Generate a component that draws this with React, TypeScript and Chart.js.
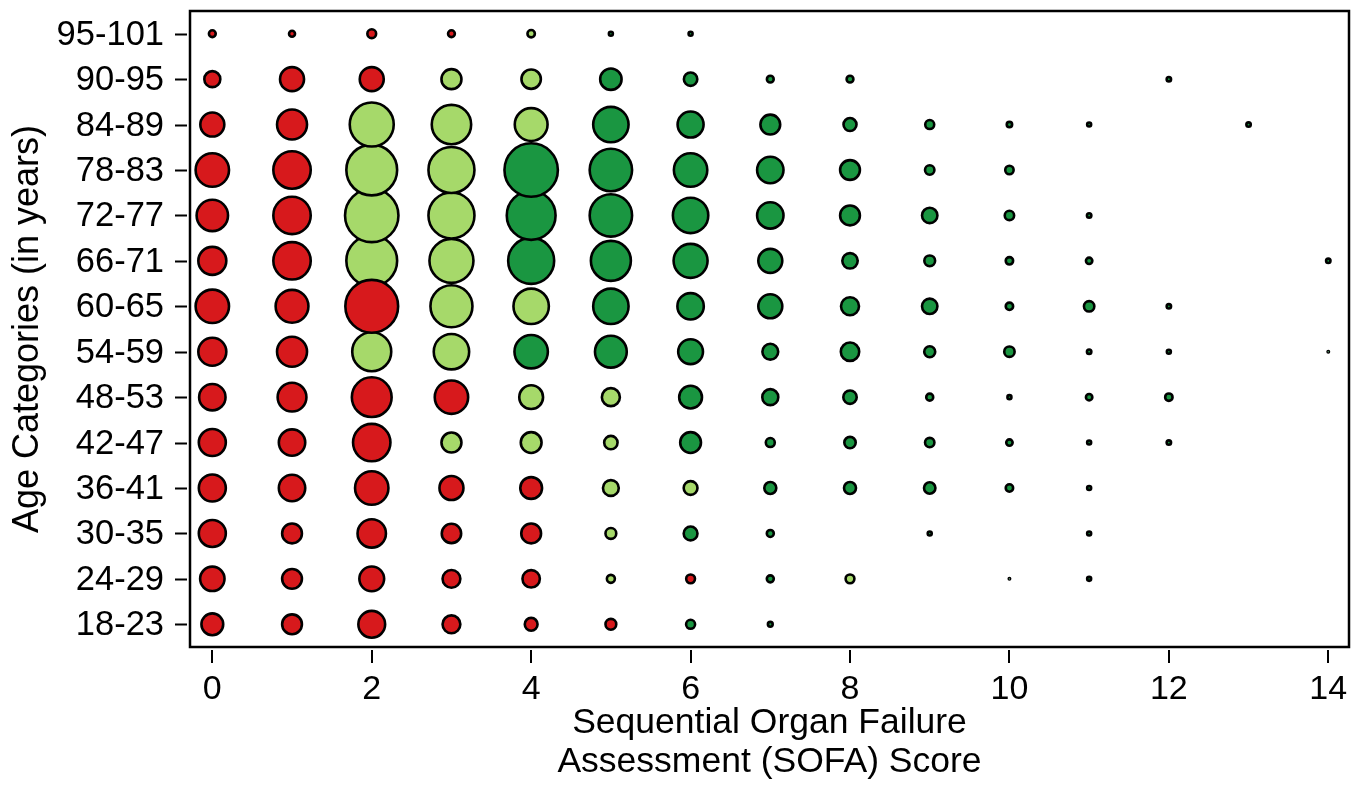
import React, { useEffect, useRef } from 'react';
import { Chart, registerables, BubbleController } from 'chart.js';

Chart.register(...registerables);

// Bubble controller that does not reserve extra padding around the plot area
class TightBubbleController extends BubbleController {
  static id = 'tightBubble';
  static defaults = BubbleController.defaults;
  static overrides = BubbleController.overrides;
  getMaxOverflow() {
    return false as any;
  }
}
Chart.register(TightBubbleController);

// Age categories, bottom (index 0) to top
const ageCategories = [
  '18-23', '24-29', '30-35', '36-41', '42-47', '48-53', '54-59',
  '60-65', '66-71', '72-77', '78-83', '84-89', '90-95', '95-101',
];
const sofaScores = [0, 1, 2, 3, 4, 5, 6, 7, 8, 9, 10, 11, 12, 13, 14];
const xTickValues = [0, 2, 4, 6, 8, 10, 12, 14];

// Bubble size (radius, px) per SOFA score 0..14 for each age category; null = empty
const size18to23 = [12.2, 11.2, 14.7, 10.2, 7.7, 6.7, 5.8, 3.7, null, null, null, null, null, null, null];
const size24to29 = [13.5, 11.2, 13.7, 10.2, 10, 5.3, 5.7, 4.8, 5.7, null, 2, 3.3, null, null, null];
const size30to35 = [14.8, 11.2, 15.5, 11, 11.2, 6.7, 8.2, 4.8, null, 3.3, null, 3.3, null, null, null];
const size36to41 = [14.8, 14.5, 18, 13.3, 12.2, 9.2, 8.2, 7.3, 7.3, 7, 5, 3.3, null, null, null];
const size42to47 = [14.8, 14.5, 20, 11.3, 11.7, 8, 11.7, 5.8, 7, 6, 4.5, 3.3, 3.5, null, null];
const size48to53 = [14.5, 15.7, 21.2, 18, 13.2, 10.3, 12.7, 9.3, 8, 4.8, 3.3, 4.5, 5, null, null];
const size54to59 = [15.3, 16.3, 20.8, 19, 18, 17.2, 13.7, 9.2, 10.5, 6.8, 6.5, 3.5, 3.3, null, 2];
const size60to65 = [18, 17.7, 27.7, 22.3, 19, 19, 14.5, 13.3, 10.3, 9, 5, 6.5, 3.5, null, null];
const size66to71 = [15.3, 20, 26.7, 23.3, 24.3, 21.3, 18.3, 13.3, 9, 6.7, 5, 4.5, null, null, 3.5];
const size72to77 = [17, 20, 28, 24.3, 25.7, 22.5, 19, 14.5, 11.2, 9, 6, 3.5, null, null, null];
const size78to83 = [18, 20, 26.7, 24.3, 28, 22.5, 18, 14.5, 11.2, 6, 5.5, null, null, null, null];
const size84to89 = [13.3, 16.3, 23.3, 21, 17.7, 19, 14.3, 11.2, 7.8, 5.8, 4, 3.3, null, 3.5, null];
const size90to95 = [9.3, 13.3, 13.3, 11.3, 11, 12, 8, 4.7, 4.7, null, null, null, 3.5, null, null];
const size95to101 = [4.7, 4.3, 5.7, 4.7, 5, 3.3, 3.3, null, null, null, null, null, null, null, null];

// Colour group per SOFA score 0..14: R = red, L = light green, D = dark green, - = none
const group18to23 = 'RRRRRRDD-------';
const group24to29 = 'RRRRRLRDL-DD---';
const group30to35 = 'RRRRRLDD-D-D---';
const group36to41 = 'RRRRRLLDDDDD---';
const group42to47 = 'RRRLLLDDDDDDD--';
const group48to53 = 'RRRRLLDDDDDDD--';
const group54to59 = 'RRLLDDDDDDDDD-D';
const group60to65 = 'RRRLLDDDDDDDD--';
const group66to71 = 'RRLLDDDDDDDD--D';
const group72to77 = 'RRLLDDDDDDDD---';
const group78to83 = 'RRLLDDDDDDD----';
const group84to89 = 'RRLLLDDDDDDD-D-';
const group90to95 = 'RRRLLDDDD---D--';
const group95to101 = 'RRRRLDD--------';

const rowSizes = [
  size18to23, size24to29, size30to35, size36to41, size42to47, size48to53, size54to59,
  size60to65, size66to71, size72to77, size78to83, size84to89, size90to95, size95to101,
];
const rowGroups = [
  group18to23, group24to29, group30to35, group36to41, group42to47, group48to53, group54to59,
  group60to65, group66to71, group72to77, group78to83, group84to89, group90to95, group95to101,
];

const groupCodes = ['R', 'L', 'D'];
const groupColors = ['#d7191c', '#a6d96a', '#1a9641'];

const BORDER = 2.6;
const FONT = '"Liberation Sans", Arial, Helvetica, sans-serif';

// Draws the frame, the tick marks (set off from the frame) and the tick labels
const frame = {
  id: 'frame',
  afterDraw(chart: any) {
    const { ctx, chartArea } = chart;
    const { left, right, top, bottom } = chartArea;
    const xs = chart.scales.x;
    const ys = chart.scales.y;
    ctx.save();
    ctx.strokeStyle = '#000';
    ctx.lineWidth = 2.5;
    ctx.strokeRect(left, top, right - left, bottom - top);
    ctx.lineWidth = 2;
    ctx.beginPath();
    ageCategories.forEach((_, i) => {
      const y = Math.round(ys.getPixelForValue(i)) + 0.5;
      ctx.moveTo(left - 15, y);
      ctx.lineTo(left - 3, y);
    });
    xTickValues.forEach((v) => {
      const x = Math.round(xs.getPixelForValue(v));
      ctx.moveTo(x, bottom + 3);
      ctx.lineTo(x, bottom + 16);
    });
    ctx.stroke();

    ctx.fillStyle = '#000';
    ctx.font = `34.5px ${FONT}`;
    ctx.textAlign = 'right';
    ctx.textBaseline = 'middle';
    ageCategories.forEach((label, i) => {
      ctx.fillText(label, left - 26, ys.getPixelForValue(i) + 1.5);
    });
    ctx.font = `34px ${FONT}`;
    ctx.textAlign = 'center';
    xTickValues.forEach((v) => {
      ctx.fillText(String(v), xs.getPixelForValue(v), bottom + 43);
    });
    ctx.restore();
  },
};

export default function App() {
  const ref = useRef<HTMLCanvasElement | null>(null);

  useEffect(() => {
    if (!ref.current) return;
    const datasets = groupCodes.map((code, gi) => {
      const data: { x: number; y: number; r: number }[] = [];
      rowSizes.forEach((sizes, yi) => {
        sofaScores.forEach((score, xi) => {
          const s = sizes[xi];
          if (s != null && rowGroups[yi][xi] === code) {
            data.push({ x: score, y: yi, r: Math.max(s - BORDER / 2, 0.6) });
          }
        });
      });
      return {
        label: code,
        data,
        backgroundColor: groupColors[gi],
        borderColor: '#000',
        borderWidth: BORDER,
      };
    });

    const chart = new Chart(ref.current, {
      type: 'tightBubble' as any,
      data: { datasets },
      plugins: [frame],
      options: {
        animation: false,
        responsive: false,
        devicePixelRatio: 1,
        events: [],
        layout: { padding: { top: 11, right: 16, left: 0, bottom: 0 } },
        plugins: { legend: { display: false }, tooltip: { enabled: false } },
        scales: {
          x: {
            type: 'linear',
            position: 'bottom',
            min: -0.28,
            max: 14.26,
            afterBuildTicks: (s: any) => {
              s.ticks = xTickValues.map((v) => ({ value: v }));
            },
            afterFit: (s: any) => {
              s.height = 138;
            },
            grid: { display: false, drawTicks: false },
            border: { display: false },
            ticks: { display: false },
            title: {
              display: true,
              text: ['Sequential Organ Failure', 'Assessment (SOFA) Score'],
              color: '#000',
              font: { family: FONT, size: 35.5, lineHeight: 1.08 },
              padding: { top: 0, bottom: 4 },
            },
          },
          y: {
            type: 'linear',
            position: 'left',
            min: -0.5,
            max: 13.5,
            afterBuildTicks: (s: any) => {
              s.ticks = ageCategories.map((_, i) => ({ value: i }));
            },
            afterFit: (s: any) => {
              s.width = 190;
            },
            grid: { display: false, drawTicks: false },
            border: { display: false },
            ticks: { display: false },
            title: {
              display: true,
              text: 'Age Categories (in years)',
              color: '#000',
              font: { family: FONT, size: 36, lineHeight: 1.2 },
              padding: { top: 6, bottom: 0 },
            },
          },
        },
      },
    });
    return () => chart.destroy();
  }, []);

  return (
    <canvas
      ref={ref}
      width={1365}
      height={785}
      style={{ position: 'fixed', left: 0, top: 0, width: 1365, height: 785, display: 'block', background: '#fff' }}
    />
  );
}
